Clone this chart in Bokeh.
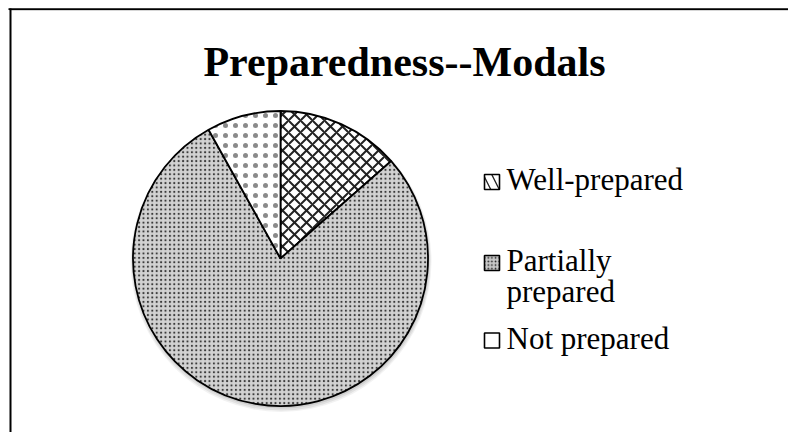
import numpy as np
from bokeh.plotting import figure
from bokeh.models import Range1d, ColumnDataSource
from bokeh.core.properties import value
from bokeh.embed import file_html
from bokeh.resources import INLINE

# ---- data ----
title = "Preparedness--Modals"
categories = ["Well-prepared", "Partially prepared", "Not prepared"]
counts = [5, 29, 3]
legend_lines = [["Well-prepared"], ["Partially", "prepared"], ["Not prepared"]]

# ---- styles ----
fill_colors = ["white", "#d2d2d2", "white"]
hatch_patterns = ["diagonal_cross", "dot", "dot"]
hatch_scales = [12, 4.4, 10]
hatch_weights = [2.0, 1.0, 1.0]
hatch_colors = ["#222222", "#3a3a3a", "#8a8a8a"]
legend_fills = ["white", "#c8c8c8", "white"]
legend_patterns = ["left_diagonal_line", "dot", " "]
legend_scales = [17, 3.6, 10]

W, H = 788, 432
p = figure(width=W, height=H, x_range=Range1d(0, W), y_range=Range1d(0, H),
           output_backend="svg", toolbar_location=None, min_border=0)
p.axis.visible = False
p.grid.visible = False
p.outline_line_color = None
p.background_fill_color = "white"
p.border_fill_color = "white"


def X(px):
    return px


def Y(py):
    return H - py


# frame lines (top and left of the chart area)
p.segment(x0=[X(8)], y0=[Y(8.6)], x1=[X(788)], y1=[Y(8.6)], line_color="black", line_width=1.6)
p.segment(x0=[X(9)], y0=[Y(10)], x1=[X(788)], y1=[Y(10)], line_color="#cccccc", line_width=0.8)
p.segment(x0=[X(10)], y0=[Y(8)], x1=[X(10)], y1=[Y(432)], line_color="black", line_width=2)

# ---- pie ----
cx, cy, r = X(280), Y(258), 147.5
vals = np.array(counts, dtype=float)
frac = vals / vals.sum()
cum = np.concatenate([[0], np.cumsum(frac)])
start = np.pi / 2 - cum[1:] * 2 * np.pi
end = np.pi / 2 - cum[:-1] * 2 * np.pi

# soft shadow
for dr, dy, a in [(3.0, -3.0, 0.10), (2.0, -2.5, 0.15), (1.0, -1.5, 0.2)]:
    p.circle(x=[cx + 0.5], y=[cy + dy], radius=r + dr, fill_color="#808080",
             fill_alpha=a, line_color=None)

src = ColumnDataSource(dict(
    cat=categories, start=start, end=end, fc=fill_colors,
    hp=hatch_patterns, hs=hatch_scales, hw=hatch_weights, hc=hatch_colors,
))
p.wedge(x=cx, y=cy, radius=r, start_angle="start", end_angle="end", source=src,
        fill_color="fc", line_color="black", line_width=1.8,
        hatch_pattern="hp", hatch_scale="hs", hatch_weight="hw", hatch_color="hc")

# ---- title ----
p.text(x=[X(404)], y=[Y(61)], text=[title], text_align="center", text_baseline="alphabetic",
       text_font=value("Liberation Serif"), text_font_size="42px", text_font_style="bold",
       text_color="black")

# ---- legend ----
marker_y = [181.5, 262.5, 340.0]
first_base = [178.5, 259.5, 338.0]
line_gap = 31
lsrc = ColumnDataSource(dict(x=[X(491.5)] * 3, y=[Y(v) for v in marker_y],
                             fc=legend_fills, hp=legend_patterns, hs=legend_scales))
p.rect(x="x", y="y", width=15, height=15, source=lsrc, fill_color="fc",
       line_color="black", line_width=1.6, hatch_pattern="hp", hatch_scale="hs",
       hatch_color="#222222", hatch_weight=1.3)

tx, ty, tt = [], [], []
for lines, b in zip(legend_lines, first_base):
    for k, ln in enumerate(lines):
        tx.append(X(506))
        ty.append(Y(b + k * line_gap))
        tt.append(ln)
p.text(x=tx, y=ty, text=tt, text_align="left", text_baseline="alphabetic",
       text_font=value("Liberation Serif"), text_font_size="31px", text_color="black")

open("out.html", "w").write(file_html(p, INLINE))
